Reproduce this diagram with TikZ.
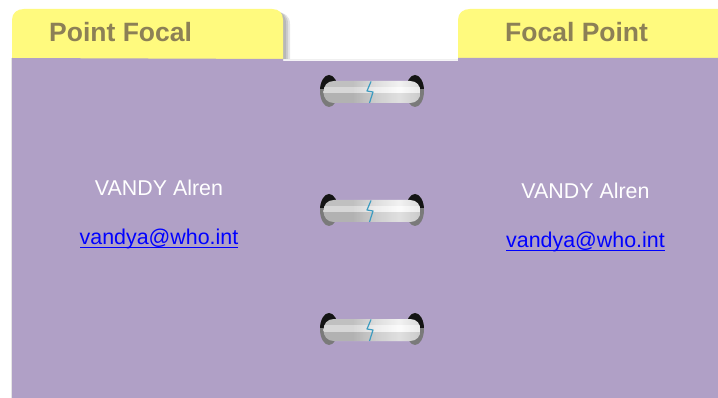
\documentclass[tikz,border=0pt]{standalone}
\usepackage{fontspec}
\setmainfont{Liberation Sans}
\definecolor{panelc}{HTML}{B0A0C6}
\definecolor{tabc}{HTML}{FFFA7E}
\definecolor{tabtext}{HTML}{8C8056}
\definecolor{zig}{HTML}{3E9CC0}
\pgfdeclarehorizontalshading{barshade}{100bp}{
  color(0bp)=(black!55);
  color(5bp)=(black!38);
  color(12bp)=(black!22);
  color(40bp)=(black!22);
  color(52bp)=(black!10);
  color(64bp)=(black!2);
  color(80bp)=(black!16);
  color(93bp)=(black!26);
  color(100bp)=(black!55)}
\tikzset{
  x=1pt,y=-1pt,
  panel/.style={fill=panelc,draw=none},
  tab/.style={fill=tabc,draw=none},
  tabshadow/.style={fill=black,fill opacity=.1,draw=none},
  tablabel/.style={text=tabtext,font=\bfseries\fontsize{26.5}{30}\selectfont,inner sep=0pt,anchor=base west},
  person/.style={text=white,font=\fontsize{21.4}{25}\selectfont,inner sep=0pt,anchor=base},
  maillink/.style={text=blue,font=\fontsize{21.4}{25}\selectfont,inner sep=0pt,anchor=base},
  underl/.style={draw=blue,line width=1.3pt},
  ringbar/.pic={
    % ring backs: black upper part, grey lower part
    \fill[black!52] (-43,-1) ellipse [x radius=9,y radius=16];
    \fill[black!52] (43,-1) ellipse [x radius=9,y radius=16];
    \begin{scope}
      \clip (-60,-20) rectangle (60,-3);
      \fill[black!92] (-43,-1) ellipse [x radius=9,y radius=16];
      \fill[black!92] (43,-1) ellipse [x radius=9,y radius=16];
    \end{scope}
    % bar
    \begin{scope}
      \clip (-38,-11) -- (38,-11)
       .. controls (45,-11) and (48.5,-6) .. (48.5,0) .. controls (48.5,6) and (45,11) .. (38,11)
       -- (-38,11) .. controls (-45,11) and (-48.5,6) .. (-48.5,0) .. controls (-48.5,-6) and (-45,-11) .. (-38,-11) -- cycle;
      \path[shading=barshade,shading angle=0] (-48.5,-11) rectangle (48.5,11);
      \fill[white,opacity=.3] (-48.5,-5) rectangle (48.5,1.5);
      \fill[black,opacity=.1] (-48.5,1.5) rectangle (48.5,11);
      \fill[black,opacity=.03] (-48.5,-11) rectangle (48.5,-5);
    \end{scope}
    % lightning
    \draw[zig,line width=1.2pt,line join=round] (-1,-10.5) -- (-5,-1) -- (1,0) -- (-2.5,11);
  }
}
\begin{document}
\begin{tikzpicture}
\useasboundingbox (0,0) rectangle (718,398);
\fill[white] (0,0) rectangle (718,398);
% soft shadow around the panel and tabs
\fill[black!10] (11,58) rectangle (12.5,398);
\fill[tabshadow] (20,12) -- (277,12) .. controls (284,12) and (290,16) .. (290,24) -- (290,60) -- (20,60) -- cycle;
\fill[tabshadow] (20,12) -- (277,12) .. controls (283,12) and (288,16) .. (288,24) -- (288,60) -- (20,60) -- cycle;
\fill[tabshadow] (20,12) -- (277,12) .. controls (282,12) and (286,16) .. (286,24) -- (286,60) -- (20,60) -- cycle;
\fill[black!6] (283,59) rectangle (458,60.5);
% tabs
\path[tab] (12,60) -- (12,20) .. controls (12,13) and (17,9) .. (24,9) -- (272,9)
   .. controls (279,9) and (283,13) .. (283,20) -- (283,60) -- cycle;
\path[tab] (458,60) -- (458,20) .. controls (458,13) and (463,9) .. (470,9) -- (718,9) -- (718,60) -- cycle;
% panel
\path[panel] (12,58) -- (283,59) -- (283,61) -- (458,61) -- (458,58) -- (718,58) -- (718,398) -- (12,398) -- cycle;
% titles
\node[tablabel] (ltitle) at (49,42) {Point Focal};
\node[tablabel] (rtitle) at (505,42) {Focal Point};
% rings
\pic at (372,92) {ringbar};
\pic at (372,211) {ringbar};
\pic at (372,330) {ringbar};
% left card
\node[person] (lname) at (159,196) {VANDY Alren};
\node[maillink] (lmail) at (159,245) {vandya@who.int};
\draw[underl] (80,247.5) -- (238,247.5);
% right card
\node[person] (rname) at (585.5,199) {VANDY Alren};
\node[maillink] (rmail) at (585.5,248) {vandya@who.int};
\draw[underl] (506,250.5) -- (665,250.5);
\end{tikzpicture}
\end{document}
